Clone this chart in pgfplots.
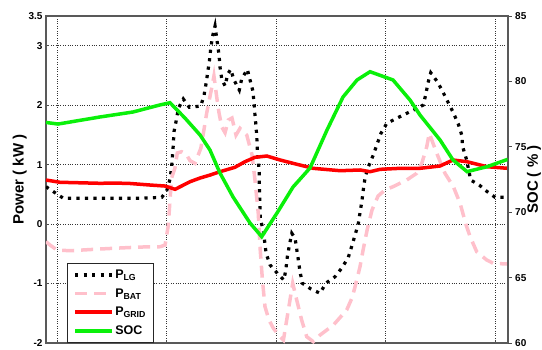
\documentclass[border=0pt]{standalone}
\usepackage{pgfplots}
\pgfplotsset{compat=1.18}
\usepackage{fontspec}
\setmainfont{Liberation Sans}
\definecolor{socgreen}{RGB}{10,240,10}
\definecolor{gridred}{RGB}{255,0,0}
\definecolor{batpink}{RGB}{255,192,203}
\begin{document}
\begin{tikzpicture}
\path[use as bounding box] (-46pt,-6pt) rectangle (496pt,343pt);
\begin{axis}[
  scale only axis, width=461.7pt, height=327pt,
  xmin=-0.62, xmax=24.7, ymin=-2, ymax=3.5,
  xtick={0,6,12,18,24}, xticklabels={},
  ytick={-2,-1,0,1,2,3,3.5},
  yticklabels={-2,-1,0,1,2,3,3.5},
  ytick pos=left, xtick pos=bottom,
  grid=major, major grid style={dotted, black!80, line width=0.7pt},
  axis line style={black!65, line width=1.6pt},
  tick style={black!70, line width=0.6pt}, major tick length=3pt,
  tick align=inside,
  ticklabel style={font=\fontsize{10}{12}\selectfont\bfseries},
  /pgf/number format/assume math mode=true,
  ylabel={Power ( kW )},
  ylabel style={font=\fontsize{15}{18}\selectfont\bfseries, at={(axis description cs:-0.057,0.5)}, anchor=center},
  legend style={at={(0.045,0.0)}, anchor=south west, draw=black!85, line width=1pt,
    font=\fontsize{12.5}{14}\selectfont\bfseries, row sep=5.5pt, inner xsep=6pt, inner ysep=5pt,
    nodes={inner sep=1.5pt}},
  legend cell align=left,
  legend image code/.code={\draw[#1] (0pt,0pt) -- (37pt,0pt);},
]
% P_LG (black dotted)
\addplot[black, line width=3.2pt, dash pattern=on 3.2pt off 5.3pt] coordinates {
(-0.62,0.629) (-0.13,0.528) (0.33,0.434) (2.34,0.434) (4.54,0.434) (5.73,0.450)
(6.00,0.561) (6.18,0.753) (6.27,0.965) (6.36,1.330) (6.40,1.554) (6.51,1.722)
(6.64,1.947) (6.91,2.104) (7.24,1.964) (7.87,1.986) (8.05,2.171) (8.16,2.368)
(8.34,2.743) (8.41,2.940) (8.50,3.142) (8.65,3.332) (8.78,3.041) (8.87,2.844)
(8.92,2.647) (9.02,2.440) (9.20,2.323) (9.35,2.524) (9.51,2.603) (9.69,2.423)
(9.98,2.255) (10.11,2.440) (10.42,2.603) (10.57,2.423) (10.72,2.244) (10.79,2.042)
(10.84,1.835) (10.90,1.638) (10.94,1.460) (10.97,1.258) (11.02,1.061) (11.08,0.859)
(11.08,0.674) (11.10,0.489) (11.12,0.292) (11.13,0.097) (11.30,-0.117) (11.45,-0.492)
(11.67,-0.688) (12.07,-0.828) (12.43,-0.941) (12.54,-0.751) (12.61,-0.559) (12.72,-0.369)
(12.86,-0.155) (13.04,-0.239) (13.13,-0.424) (13.22,-0.604) (13.31,-0.801) (13.44,-0.996)
(13.91,-1.092) (14.41,-1.164) (14.72,-0.996) (15.23,-0.885) (15.63,-0.727) (15.96,-0.559)
(16.15,-0.369) (16.33,-0.184) (16.51,0.013) (16.60,0.191) (16.70,0.376) (16.78,0.573)
(16.88,0.787) (17.06,0.965) (17.33,1.162) (17.52,1.330) (17.75,1.527) (18.07,1.695)
(18.61,1.779) (19.16,1.863) (19.62,1.931) (20.07,2.003) (20.22,2.196) (20.33,2.378)
(20.48,2.546) (20.84,2.395) (21.14,2.227) (21.44,2.042) (21.72,1.873) (21.99,1.683)
(22.18,1.498) (22.23,1.302) (22.45,1.078) (22.67,0.741) (23.14,0.657) (23.58,0.545)
(24.01,0.450) (24.65,0.450)
};
\addlegendentry{P\textsubscript{LG}}
% P_BAT (pink dashed)
\addplot[batpink, line width=3.5pt, dash pattern=on 12pt off 7pt] coordinates {
(-0.62,-0.296) (-0.40,-0.352) (-0.02,-0.436) (0.70,-0.448) (2.34,-0.419) (3.44,-0.402)
(4.54,-0.386) (5.64,-0.381) (5.91,-0.352) (6.09,-0.016) (6.18,0.405) (6.27,0.775)
(6.45,0.943) (6.58,1.196) (6.82,1.217) (7.06,1.179) (7.28,1.066) (7.55,1.022)
(7.87,1.275) (8.01,1.527) (8.19,1.863) (8.37,2.143) (8.50,2.339) (8.59,2.491)
(8.74,2.143) (8.87,1.868) (9.02,1.633) (9.20,1.537) (9.38,1.751) (9.58,1.784)
(9.80,1.498) (10.02,1.611) (10.39,1.498) (10.68,1.162) (10.84,0.741) (11.02,0.181)
(11.12,-0.402) (11.25,-0.941) (11.39,-1.390) (11.61,-1.614) (11.85,-1.753) (12.21,-1.894)
(12.40,-1.950) (12.58,-1.614) (12.76,-1.277) (12.91,-0.996) (13.13,-1.277) (13.40,-1.614)
(13.68,-1.894) (14.04,-1.978) (14.41,-1.866) (15.14,-1.698) (15.87,-1.445) (16.16,-1.243)
(16.33,-1.053) (16.60,-0.717) (16.77,-0.436) (16.99,-0.100) (17.26,0.237) (17.59,0.472)
(17.97,0.573) (18.41,0.629) (19.16,0.741) (19.71,0.854) (19.99,1.022) (20.26,1.301)
(20.40,1.527) (20.81,1.190) (21.26,0.854) (21.72,0.629) (22.09,0.349) (22.42,-0.016)
(22.64,-0.212) (23.00,-0.465) (23.55,-0.604) (23.91,-0.660) (24.70,-0.672)
};
\addlegendentry{P\textsubscript{BAT}}
% P_GRID (red)
\addplot[gridred, line width=3.5pt] coordinates {
(-0.62,0.741) (0.15,0.703) (1.2,0.695) (2.34,0.686) (3.2,0.690) (3.99,0.683) (5.09,0.657)
(5.91,0.640) (6.46,0.585) (7.28,0.713) (7.83,0.775) (8.38,0.825) (8.92,0.881)
(9.74,0.955) (10.29,1.049) (10.84,1.123) (11.49,1.145) (12.22,1.078) (12.93,1.022)
(14.03,0.938) (15.51,0.898) (16.61,0.910) (17.15,0.881) (17.70,0.921) (18.80,0.938)
(19.89,0.938) (20.99,0.977) (21.70,1.078) (22.47,1.049) (23.57,0.965) (24.70,0.938)
};
\addlegendentry{P\textsubscript{GRID}}
\addlegendimage{socgreen, line width=3.5pt}
\addlegendentry{SOC}
\end{axis}
\begin{axis}[
  scale only axis, width=461.7pt, height=327pt,
  xmin=-0.62, xmax=24.7, ymin=60, ymax=85,
  axis y line*=right, axis x line=none,
  ytick={60,65,70,75,80,85},
  axis line style={black!65, line width=1.6pt},
  tick style={black!70, line width=0.6pt}, major tick length=4pt,
  tick align=outside,
  ticklabel style={font=\fontsize{10}{12}\selectfont\bfseries},
  /pgf/number format/assume math mode=true,
  ylabel={SOC ( \% )},
  ylabel style={font=\fontsize{15}{18}\selectfont\bfseries, at={(axis description cs:1.057,0.5)}, anchor=center},
]
\addplot[socgreen, line width=3.5pt] coordinates {
(-0.62,76.86) (0.04,76.74) (2.34,77.28) (4.15,77.66) (5.63,78.20) (6.18,78.37)
(7.00,77.20) (7.83,75.90) (8.37,74.76) (8.92,73.00) (9.64,71.16) (10.57,69.17)
(11.21,68.13) (12.05,69.94) (12.93,71.93) (13.86,73.38) (14.79,76.28) (15.67,78.81)
(16.44,80.11) (17.15,80.74) (18.41,80.11) (19.34,78.58) (19.89,77.43) (20.99,75.52)
(21.70,73.99) (22.47,73.10) (23.57,73.48) (24.70,74.04)
};
\end{axis}
\end{tikzpicture}
\end{document}
